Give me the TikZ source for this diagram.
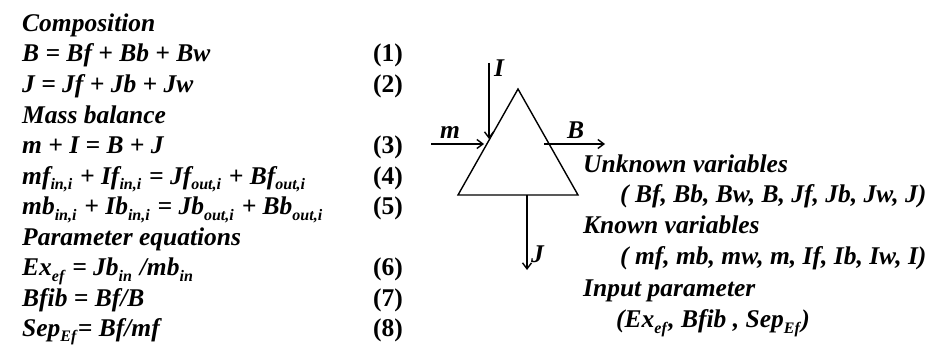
\documentclass[tikz,border=0pt]{standalone}
\usepackage{fontspec}
\setmainfont{Liberation Serif}
\usetikzlibrary{arrows.meta,calc}
\newcommand{\dn}[1]{\raisebox{-0.22em}{\fontsize{16}{16}\selectfont #1\kern1.5pt}}
\begin{document}
\begin{tikzpicture}[x=1pt,y=-1pt,
  txt/.style={anchor=base west,inner sep=0pt,font=\fontsize{25.5}{30}\selectfont\bfseries\itshape},
  num/.style={anchor=base west,inner sep=0pt,font=\fontsize{25.5}{30}\selectfont\bfseries},
  flow/.style={line width=1.4pt,-{Straight Barb[length=6pt,width=9pt,line width=1.4pt]}},
  tri/.style={line width=1.4pt,line join=miter}]
\useasboundingbox (0,0) rectangle (935,345);
% left column
\node[txt] (h1) at (22,31.5) {Composition};
\node[txt] (e1) at (22,62) {B = Bf + Bb + Bw};
\node[num] (n1) at (373,62) {(1)};
\node[txt] (e2) at (22,92.5) {J = Jf + Jb + Jw};
\node[num] (n2) at (373,92.5) {(2)};
\node[txt] (h2) at (22,123) {Mass balance};
\node[txt] (e3) at (22,153.5) {m + I = B + J};
\node[num] (n3) at (373,153.5) {(3)};
\node[txt] (e4) at (22,184) {mf\dn{in,i} + If\dn{in,i} = Jf\dn{out,i} + Bf\dn{out,i}};
\node[num] (n4) at (373,184) {(4)};
\node[txt] (e5) at (22,214.5) {mb\dn{in,i} + Ib\dn{in,i} = Jb\dn{out,i} + Bb\dn{out,i}};
\node[num] (n5) at (373,214.5) {(5)};
\node[txt] (h3) at (22,245) {Parameter equations};
\node[txt] (e6) at (22,275.5) {Ex\dn{ef} = Jb\dn{in} /mb\dn{in}};
\node[num] (n6) at (373,275.5) {(6)};
\node[txt] (e7) at (22,306) {Bfib = Bf/B};
\node[num] (n7) at (373,306) {(7)};
\node[txt] (e8) at (22,336) {Sep\dn{Ef}= Bf/mf};
\node[num] (n8) at (373,336) {(8)};
% triangle
\coordinate (apex) at (518,89);
\coordinate (bl) at (458,195);
\coordinate (br) at (578,195);
\draw[tri] (apex) -- (bl) -- (br) -- cycle;
% I arrow
\coordinate (itop) at (489,63);
\coordinate (iend) at (489,139);
\draw[flow] (itop) -- (iend);
\node[txt] (lI) at (494,77) {I};
% m arrow
\coordinate (mstart) at (431,144);
\coordinate (mend) at (484,144);
\draw[flow] (mstart) -- (mend);
\node[txt] (lm) at (440,138) {m};
% B arrow
\coordinate (bstart) at (544,144);
\coordinate (bend) at (605,144);
\draw[flow] (bstart) -- (bend);
\node[txt] (lB) at (567,138) {B};
% J arrow
\coordinate (jstart) at (527,195);
\coordinate (jend) at (527,270);
\draw[flow] (jstart) -- (jend);
\node[txt] (lJ) at (531,262) {J};
% right column
\node[txt] (r1) at (583,172) {Unknown variables};
\node[txt] (r2) at (620,202.5) {( Bf, Bb, Bw, B, Jf, Jb, Jw, J)};
\node[txt] (r3) at (583,233.5) {Known variables};
\node[txt] (r4) at (620,264.5) {( mf, mb, mw, m, If, Ib, Iw, I)};
\node[txt] (r5) at (583,296) {Input parameter};
\node[txt] (r6) at (616,327.5) {(Ex\dn{ef}, Bfib , Sep\dn{Ef})};
\end{tikzpicture}
\end{document}
